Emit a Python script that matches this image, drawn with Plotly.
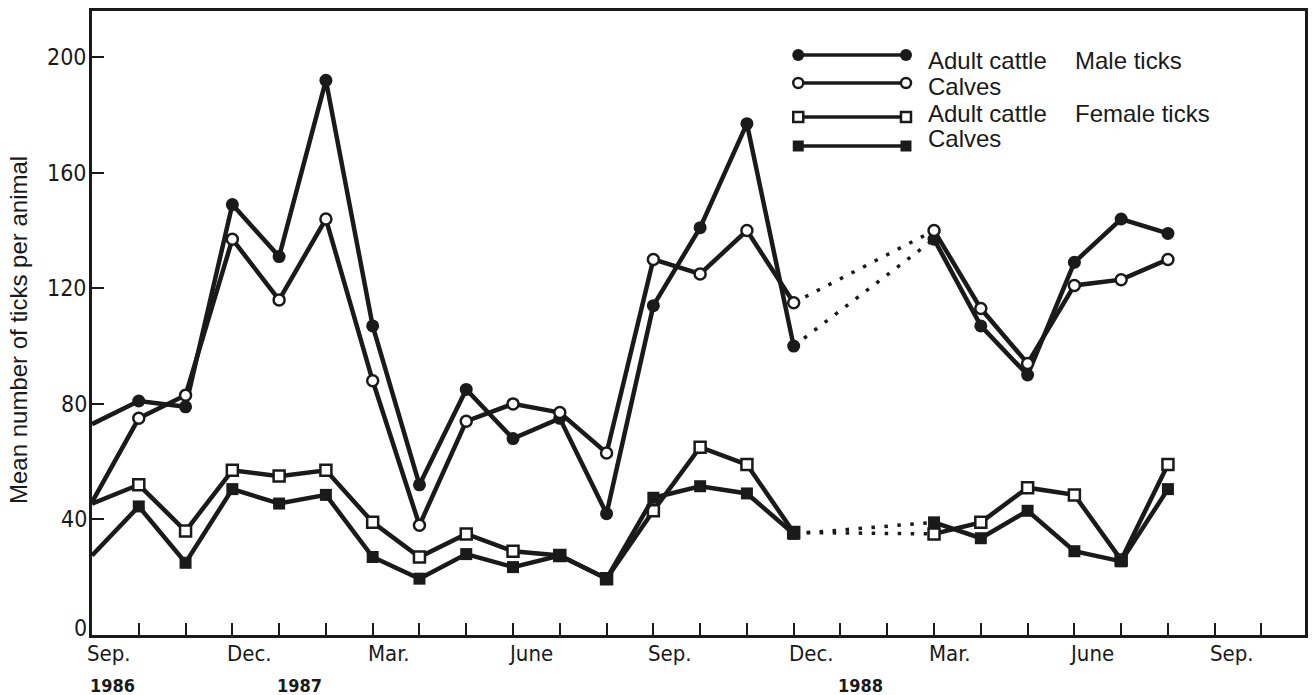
import plotly.graph_objects as go

# Months from Sep. 1986 (index 0) onward; no counts for Jan./Feb. 1988
month_index = list(range(24))
male_adult = [73, 81, 79, 149, 131, 192, 107, 52, 85, 68, 75, 42,
              114, 141, 177, 100, None, None, 137, 107, 90, 129, 144, 139]
male_calves = [46, 75, 83, 137, 116, 144, 88, 38, 74, 80, 77, 63,
               130, 125, 140, 115, None, None, 140, 113, 94, 121, 123, 130]
female_adult = [45.5, 52, 36, 57, 55, 57, 39, 27, 35, 29, 27.5, 19.5,
                43, 65, 59, 35.5, None, None, 35, 39, 51, 48.5, 26, 59]
female_calves = [27.5, 44.5, 25, 50.5, 45.5, 48.5, 27, 19.5, 28, 23.5, 27.5, 19.5,
                 47.5, 51.5, 49, 35, None, None, 39, 33.5, 43, 29, 25.5, 50.5]

month_ticks = list(range(26))
month_labels = {0: "Sep.", 3: "Dec.", 6: "Mar.", 9: "June", 12: "Sep.",
                15: "Dec.", 18: "Mar.", 21: "June", 24: "Sep."}
year_labels = {0: "1986", 4: "1987", 16: "1988"}

y_ticks = [0, 40, 80, 120, 160, 200]

legend_rows = [
    ("Adult cattle", "Male ticks"),
    ("Calves", ""),
    ("Adult cattle", "Female ticks"),
    ("Calves", ""),
]

INK = "#1a1a1a"
LINE_W = 4.5
TICK_FONT = "DejaVu Sans Condensed, DejaVu Sans"
TEXT_FONT = "Liberation Sans, Arial"

styles = [
    dict(symbol="circle", size=13, color=INK, line=dict(width=0, color=INK)),
    dict(symbol="circle", size=11, color="white", line=dict(width=2.5, color=INK)),
    dict(symbol="square", size=11, color="white", line=dict(width=2.5, color=INK)),
    dict(symbol="square", size=12, color=INK, line=dict(width=0, color=INK)),
]
series = [male_adult, male_calves, female_adult, female_calves]

fig = go.Figure()

# dotted bridges across the missing months
for vals in series:
    gap_start = next(i for i, v in enumerate(vals) if v is None)
    gap_end = next(i for i in range(gap_start, len(vals)) if vals[i] is not None)
    fig.add_trace(go.Scatter(
        x=[month_index[gap_start - 1], month_index[gap_end]],
        y=[vals[gap_start - 1], vals[gap_end]],
        mode="lines",
        line=dict(color=INK, width=3.5, dash="3.5px,9.5px"),
        hoverinfo="skip", showlegend=False,
    ))

# solid series with markers (first value continues from off the axis, no marker)
for vals, st in zip(series, styles):
    opac = [0] + [1] * (len(vals) - 1)
    fig.add_trace(go.Scatter(
        x=month_index, y=vals, mode="lines+markers",
        line=dict(color=INK, width=LINE_W),
        marker=dict(symbol=st["symbol"], size=st["size"], color=st["color"],
                    line=st["line"], opacity=opac),
        connectgaps=False, showlegend=False,
    ))

# key drawn in pixel space on an overlay axis
PLOT_L, PLOT_R, PLOT_T, PLOT_B = 92, 1308, 11, 635
key_y = [55, 83, 117, 146]
key_text_y = [60, 86, 113, 138]
key_x0, key_x1 = 800, 908
for ky, st in zip(key_y, styles):
    fig.add_trace(go.Scatter(
        x=[key_x0, key_x1], y=[ky, ky], xaxis="x2", yaxis="y2",
        mode="lines+markers",
        line=dict(color=INK, width=3.5),
        marker=dict(symbol=st["symbol"], size=st["size"] - 1, color=st["color"], line=st["line"]),
        hoverinfo="skip", showlegend=False,
    ))

annotations = []
for ty, (a, b) in zip(key_text_y, legend_rows):
    annotations.append(dict(x=928, y=ty, xref="x2", yref="y2", text=a, showarrow=False,
                            xanchor="left", yanchor="middle",
                            font=dict(family=TEXT_FONT, size=24, color=INK)))
    if b:
        annotations.append(dict(x=1075, y=ty, xref="x2", yref="y2", text=b, showarrow=False,
                                xanchor="left", yanchor="middle",
                                font=dict(family=TEXT_FONT, size=24, color=INK)))

# value labels on the left axis
for v in y_ticks:
    annotations.append(dict(x=0, y=v, xref="paper", yref="y", text=str(v), showarrow=False,
                            xanchor="right", yanchor="middle", xshift=-3,
                            yshift=7 if v == 0 else 0,
                            font=dict(family=TICK_FONT, size=23, color=INK)))

for i, lab in month_labels.items():
    annotations.append(dict(x=i, y=0, xref="x", yref="paper", text=lab, showarrow=False,
                            xanchor="left", yanchor="middle", xshift=-7, yshift=-18,
                            font=dict(family=TICK_FONT, size=22, color=INK)))
for i, lab in year_labels.items():
    annotations.append(dict(x=i, y=0, xref="x", yref="paper", text=f"<b>{lab}</b>", showarrow=False,
                            xanchor="left", yanchor="middle", xshift=-4, yshift=-50,
                            font=dict(family=TICK_FONT, size=18, color=INK)))

annotations.append(dict(x=0, y=(PLOT_B - 330) / (PLOT_B - PLOT_T), xref="paper", yref="paper",
                        text="Mean number of ticks per animal", textangle=-90, showarrow=False,
                        xanchor="center", yanchor="middle", xshift=-(PLOT_L - 18),
                        font=dict(family=TEXT_FONT, size=24, color=INK)))

fig.update_layout(
    width=1314, height=695,
    margin=dict(l=PLOT_L, r=1314 - PLOT_R, t=PLOT_T, b=695 - PLOT_B),
    paper_bgcolor="white", plot_bgcolor="white",
    xaxis=dict(range=[0, 25.93], tickvals=month_ticks, showticklabels=False,
               ticks="inside", ticklen=12, tickwidth=2, tickcolor=INK,
               showline=True, linecolor=INK, linewidth=2.5, mirror=True,
               showgrid=False, zeroline=False),
    yaxis=dict(range=[0, 216], tickvals=y_ticks, showticklabels=False,
               ticks="inside", ticklen=12, tickwidth=2, tickcolor=INK,
               showline=True, linecolor=INK, linewidth=2.5, mirror=True,
               showgrid=False, zeroline=False),
    xaxis2=dict(range=[PLOT_L, PLOT_R], overlaying="x", visible=False),
    yaxis2=dict(range=[PLOT_B, PLOT_T], overlaying="y", visible=False),
    annotations=annotations,
    showlegend=False,
)

fig.write_html("out.html")
